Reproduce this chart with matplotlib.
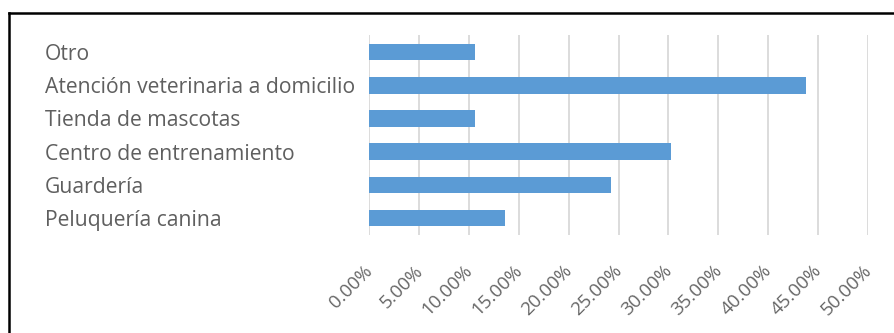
import numpy as np
import matplotlib
matplotlib.use("Agg")
import matplotlib.pyplot as plt
from matplotlib.lines import Line2D
from matplotlib.transforms import ScaledTranslation

plt.rcParams['font.family'] = ['Open Sans', 'DejaVu Sans']

categorias = ["Otro", "Atención veterinaria a domicilio", "Tienda de mascotas",
              "Centro de entrenamiento", "Guardería", "Peluquería canina"]
porcentajes = [10.6, 43.8, 10.6, 30.3, 24.2, 13.6]
ticks = [0, 5, 10, 15, 20, 25, 30, 35, 40, 45, 50]
tick_labels = ["%.2f%%" % t for t in ticks]

W, H = 895, 333
fig = plt.figure(figsize=(W / 100, H / 100), dpi=100)
ax = fig.add_axes([369 / W, (H - 234.6) / H, 499 / W, 199.2 / H])

# first category at the top
pos = np.arange(len(categorias))[::-1]
ax.barh(pos, porcentajes, height=0.5, color="#5B9BD5", zorder=3)

ax.set_xlim(0, 50)
ax.set_ylim(-0.5, len(categorias) - 0.5)
ax.set_xticks(ticks)
ax.set_xticklabels(tick_labels, rotation=45, ha="right", va="center",
                   rotation_mode="anchor", color="#666666", fontsize=13.5)
ax.set_yticks(pos)
ax.set_yticklabels(categorias, ha="left", color="#5f5f5f", fontsize=15.2)
ax.tick_params(axis="y", length=0, pad=(369 - 45) * 0.72)
ax.tick_params(axis="x", length=0, pad=24)
shift = ScaledTranslation(1 / 100, 0, fig.dpi_scale_trans)
for lab in ax.get_xticklabels():
    lab.set_transform(lab.get_transform() + shift)

ax.grid(axis="x", color="#D9D9D9", linewidth=1.3, zorder=0)
for s in ax.spines.values():
    s.set_visible(False)

# frame around the chart (only left and top fall inside the image)
fig.add_artist(Line2D([9.5 / W, 9.5 / W], [0, (H - 13) / H], color="black", lw=1.8))
fig.add_artist(Line2D([9.5 / W, 1], [(H - 13) / H, (H - 13) / H], color="black", lw=1.8))

fig.savefig("out.png", dpi=100)
